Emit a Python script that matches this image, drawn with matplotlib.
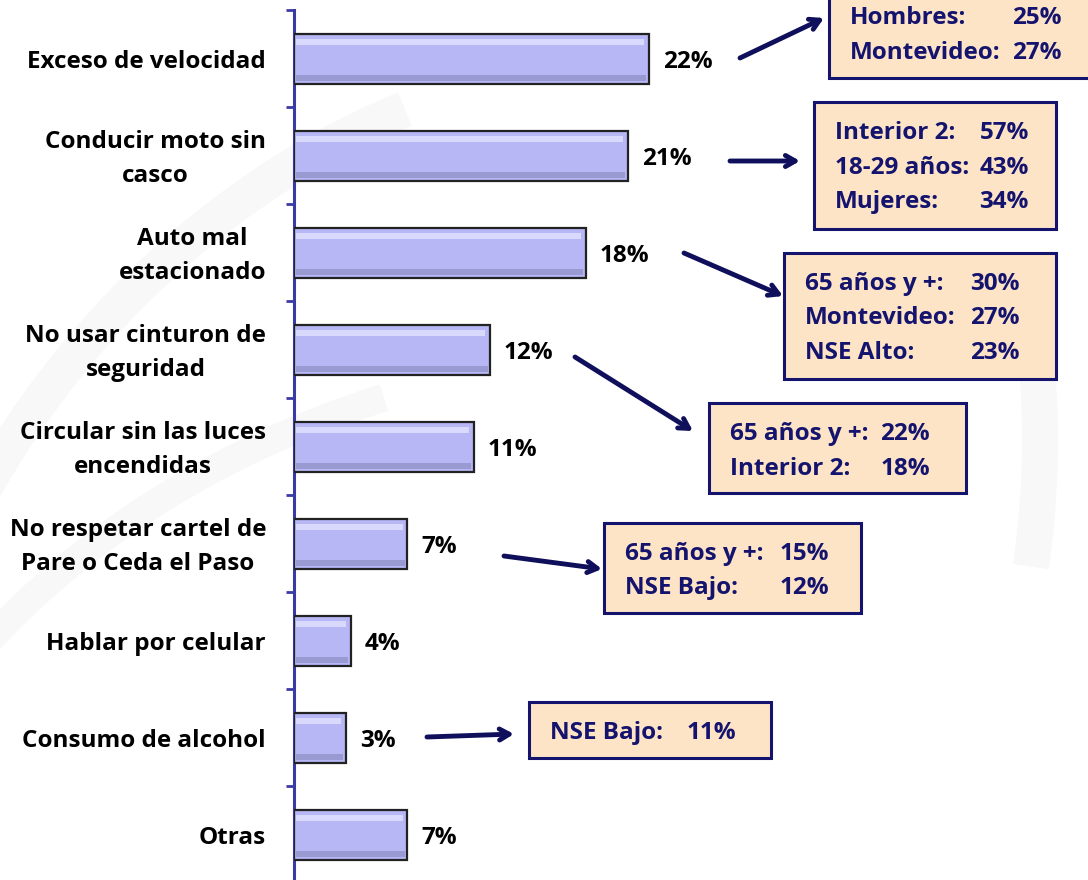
import numpy as np
import matplotlib
matplotlib.use('Agg')
import matplotlib.pyplot as plt
import matplotlib.transforms as mtransforms
from matplotlib.patches import Rectangle, Arc

# Data
categories = [
    'Exceso de velocidad',
    'Conducir moto sin\ncasco',
    'Auto mal\nestacionado',
    'No usar cinturon de\nseguridad',
    'Circular sin las luces\nencendidas',
    'No respetar cartel de\nPare o Ceda el Paso',
    'Hablar por celular',
    'Consumo de alcohol',
    'Otras',
]
values = [21.9, 20.6, 18.0, 12.1, 11.1, 7.0, 3.5, 3.2, 7.0]
value_labels = ['22%', '21%', '18%', '12%', '11%', '7%', '4%', '3%', '7%']

# Callout boxes: (category index, [(label, value), ...])
callouts = [
    (0, [('Hombres:', '25%'), ('Montevideo:', '27%')]),
    (1, [('Interior 2:', '57%'), ('18-29 años:', '43%'), ('Mujeres:', '34%')]),
    (2, [('65 años y +:', '30%'), ('Montevideo:', '27%'), ('NSE Alto:', '23%')]),
    (3, [('65 años y +:', '22%'), ('Interior 2:', '18%')]),
    (5, [('65 años y +:', '15%'), ('NSE Bajo:', '12%')]),
    (7, [('NSE Bajo:', '11%')]),
]

# Layout of the callouts in pixels (top-left origin):
# box (x0, y0, x1, y1), value column right edge, arrow start, arrow tip
box_layout = [
    ((829, -40, 1095, 78), 1062, (740, 58), (824, 18)),
    ((814, 102, 1056, 229), 1029, (730, 161), (800, 161)),
    ((784, 253, 1056, 379), 1020, (684, 253), (783, 296)),
    ((709, 403, 966, 493), 930, (575, 357), (693, 431)),
    ((604, 523, 861, 613), 829, (504, 556), (602, 569)),
    ((529, 702, 771, 758), 736, (427, 737), (514, 734)),
]

W, H = 1088, 880
NAVY = '#14146e'
FONT = 'Open Sans'
FS = 17.5

def px(x, y):
    return (x / W, 1 - y / H)

fig = plt.figure(figsize=(W / 100, H / 100), dpi=100)
fig.patch.set_facecolor('white')

# very faint background swooshes
for (cx, cy, w, h, t1, t2, lw) in [
        (700, 1000, 1700, 1900, 105, 150, 26),
        (700, 1100, 1800, 1500, 110, 150, 20),
        (760, 440, 560, 1000, 330, 40, 26)]:
    arc = Arc(px(cx, cy), w / W, h / H, theta1=t1, theta2=t2,
              transform=fig.transFigure, color='#f8f8f8', lw=lw, zorder=0)
    fig.add_artist(arc)

ax = fig.add_axes([294 / W, 1 - 883.5 / H, 1 - 294 / W, 873 / H])
ax.patch.set_alpha(0)

y = np.arange(len(categories))
bh = 0.52
ax.barh(y, values, height=bh, color='#b7b7f6', edgecolor='#222222',
        linewidth=1.6, zorder=3)
# bevel highlights / shadows
vals = np.array(values)
ax.barh(y - bh * 0.33, vals - 0.45, left=0.15, height=bh * 0.12,
        color='#d9d9fd', linewidth=0, zorder=4)
ax.barh(y + bh * 0.38, vals - 0.25, left=0.1, height=bh * 0.12,
        color='#9a9ad2', linewidth=0, zorder=4)

for yi, v, lab in zip(y, values, value_labels):
    ax.annotate(lab, (v, yi), xytext=(10, -2.5), textcoords='offset points',
                va='center', ha='left', fontsize=FS, fontweight='bold',
                family=FONT, color='black')

ax.set_xlim(0, (W - 294) / 16.2)
ax.set_ylim(len(categories) - 0.5, -0.5)

# category labels, drawn as text so they can be placed exactly
ax.set_yticks(y)
ax.set_yticklabels([])
off = mtransforms.ScaledTranslation(-28 / 100, -3 / 100, fig.dpi_scale_trans)
for yi, cat in zip(y, categories):
    ax.text(0, yi, cat, transform=ax.get_yaxis_transform() + off,
            ha='right', va='center', multialignment='center',
            linespacing=1.6, fontsize=FS, fontweight='bold', family=FONT,
            color='black')

ax.set_yticks(np.arange(-0.5, len(categories), 1.0), minor=True)
ax.tick_params(axis='y', which='major', length=0)
ax.tick_params(axis='y', which='minor', length=6, width=2, color='#3a3aa6')
ax.set_xticks([])

for s in ['top', 'right', 'bottom']:
    ax.spines[s].set_visible(False)
ax.spines['left'].set_color('#3a3aa6')
ax.spines['left'].set_linewidth(2.2)

# callouts
for (ci, lines), (box, val_x, a0, a1) in zip(callouts, box_layout):
    x0, y0, x1, y1 = box
    rect = Rectangle(px(x0, y1), (x1 - x0) / W, (y1 - y0) / H,
                     transform=fig.transFigure, facecolor='#fde4c6',
                     edgecolor=NAVY, linewidth=2.2, zorder=5)
    fig.add_artist(rect)
    if y0 < 0:
        first = y1 - 25 - 34.5 * (len(lines) - 1)
    else:
        first = y0 + 31
    for k, (lab, val) in enumerate(lines):
        ly = first + 34.5 * k
        fig.text(*px(x0 + 21, ly), lab, ha='left', va='center',
                 fontsize=FS, fontweight='bold', family=FONT, color=NAVY,
                 zorder=6)
        fig.text(*px(val_x, ly), val, ha='right', va='center',
                 fontsize=FS, fontweight='bold', family=FONT, color=NAVY,
                 zorder=6)
    ax.annotate('', xy=px(*a1), xytext=px(*a0), xycoords='figure fraction',
                textcoords='figure fraction',
                arrowprops=dict(arrowstyle='->,head_length=0.7,head_width=0.4',
                                lw=3.5, color='#0f0f5c',
                                shrinkA=0, shrinkB=0),
                annotation_clip=False)

fig.savefig('out.png', dpi=100)
